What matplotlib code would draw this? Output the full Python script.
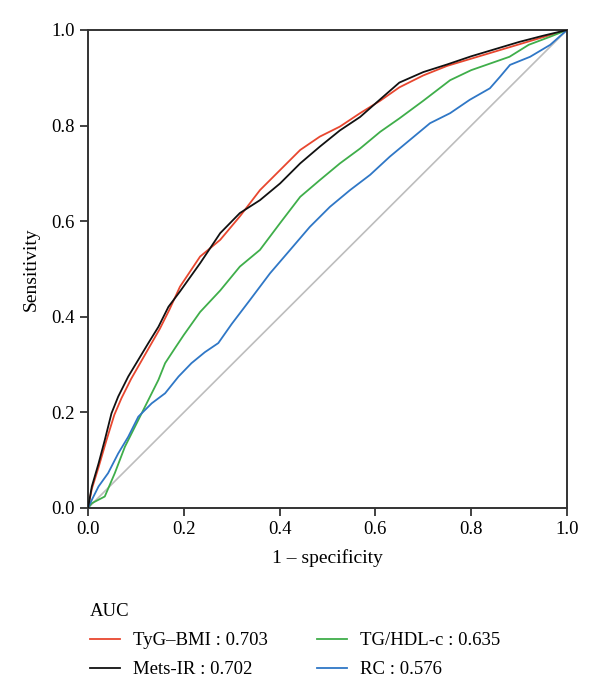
import numpy as np
import matplotlib
matplotlib.use('Agg')
import matplotlib.pyplot as plt

plt.rcParams['font.family'] = ['Liberation Serif', 'DejaVu Serif']

# ROC curves (1 - specificity, sensitivity)
tyg_x = [0, 0.008, 0.022, 0.038, 0.055, 0.07, 0.09, 0.11, 0.13, 0.15, 0.17, 0.192, 0.234, 0.276, 0.317,
         0.359, 0.401, 0.443, 0.484, 0.526, 0.568, 0.61, 0.65, 0.70, 0.75, 0.80, 0.85, 0.90, 0.95, 1.0]
tyg_y = [0, 0.04, 0.085, 0.14, 0.195, 0.23, 0.27, 0.305, 0.34, 0.375, 0.415, 0.463, 0.526, 0.561, 0.61,
         0.665, 0.707, 0.749, 0.777, 0.798, 0.826, 0.852, 0.88, 0.905, 0.925, 0.94, 0.955, 0.97, 0.985, 1.0]

mets_x = [0, 0.008, 0.022, 0.035, 0.049, 0.063, 0.084, 0.105, 0.126, 0.147, 0.168, 0.192, 0.234, 0.276,
          0.317, 0.359, 0.401, 0.443, 0.484, 0.526, 0.568, 0.61, 0.65, 0.70, 0.75, 0.80, 0.85, 0.90, 0.95, 1.0]
mets_y = [0, 0.045, 0.093, 0.142, 0.198, 0.233, 0.275, 0.31, 0.345, 0.379, 0.421, 0.453, 0.512, 0.575,
          0.617, 0.644, 0.679, 0.721, 0.756, 0.79, 0.818, 0.855, 0.89, 0.912, 0.928, 0.945, 0.96, 0.975, 0.988, 1.0]

tg_x = [0, 0.008, 0.035, 0.056, 0.077, 0.105, 0.126, 0.147, 0.161, 0.182, 0.2, 0.234, 0.276, 0.317,
        0.359, 0.401, 0.443, 0.484, 0.526, 0.568, 0.61, 0.65, 0.70, 0.756, 0.80, 0.84, 0.88, 0.92, 0.965, 1.0]
tg_y = [0, 0.01, 0.024, 0.073, 0.128, 0.184, 0.226, 0.268, 0.303, 0.335, 0.362, 0.41, 0.455, 0.505,
        0.54, 0.596, 0.651, 0.686, 0.721, 0.752, 0.787, 0.815, 0.852, 0.895, 0.916, 0.93, 0.944, 0.969, 0.986, 1.0]

rc_x = [0, 0.008, 0.022, 0.042, 0.063, 0.084, 0.105, 0.133, 0.161, 0.189, 0.216, 0.244, 0.272, 0.3,
        0.338, 0.38, 0.422, 0.463, 0.505, 0.547, 0.589, 0.63, 0.672, 0.714, 0.756, 0.797, 0.839, 0.86,
        0.881, 0.923, 0.965, 1.0]
rc_y = [0, 0.017, 0.045, 0.073, 0.114, 0.149, 0.191, 0.219, 0.24, 0.275, 0.303, 0.326, 0.345, 0.385,
        0.435, 0.491, 0.54, 0.588, 0.63, 0.665, 0.697, 0.735, 0.77, 0.805, 0.826, 0.854, 0.878, 0.902,
        0.927, 0.944, 0.969, 1.0]

labels = ['TyG\u2013BMI : 0.703', 'Mets-IR : 0.702', 'TG/HDL-c : 0.635', 'RC : 0.576']
colors = ['#e8472f', '#111111', '#3fae4a', '#2f77c6']

fig = plt.figure(figsize=(6, 6.95), dpi=100)
ax = fig.add_axes([88 / 600, 1 - 508 / 695, 479 / 600, 478 / 695])

ax.plot([0, 1], [0, 1], color='#bdbdbd', lw=1.2, zorder=1)
lines = []
for xs, ys, c in zip([tyg_x, mets_x, tg_x, rc_x], [tyg_y, mets_y, tg_y, rc_y], colors):
    ln, = ax.plot(xs, ys, color=c, lw=1.3, zorder=3 if c == '#111111' else 2)
    lines.append(ln)

ax.set_xlim(0, 1)
ax.set_ylim(0, 1)
ticks = [0, 0.2, 0.4, 0.6, 0.8, 1.0]
ax.set_xticks(ticks)
ax.set_yticks(ticks)
ax.set_xticklabels(['%.1f' % t for t in ticks])
ax.set_yticklabels(['%.1f' % t for t in ticks])
ax.tick_params(direction='out', length=6, width=1.3, labelsize=13.5, color='#333333')
for s in ax.spines.values():
    s.set_linewidth(1.4)
    s.set_color('#333333')
ax.set_xlabel('1 \u2013 specificity', fontsize=14, labelpad=8)
ax.set_ylabel('Sensitivity', fontsize=14, labelpad=8)

leg = fig.legend(lines, labels, ncol=2, title='AUC', loc='upper left',
                 bbox_to_anchor=(73 / 600, 1 - 586 / 695), frameon=False,
                 fontsize=13.5, title_fontsize=13.5, alignment='left',
                 handlelength=1.6, handletextpad=0.7, columnspacing=2.6,
                 labelspacing=0.65)

fig.savefig('out.png', dpi=100)
